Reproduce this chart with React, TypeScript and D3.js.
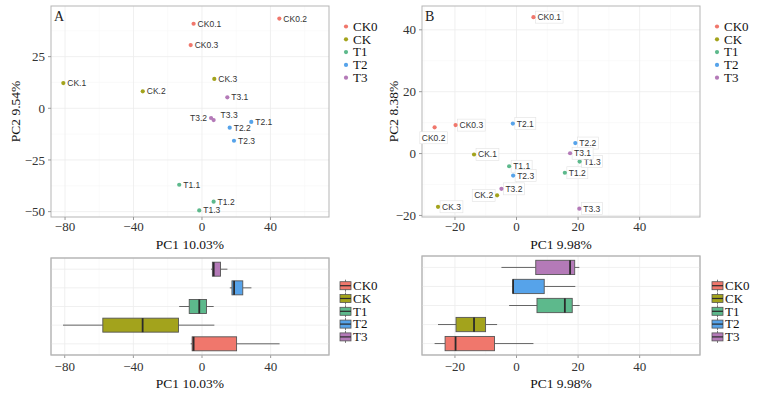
import React from 'react';
import * as d3 from 'd3';

// groups and colours
const groups = ["CK0", "CK", "T1", "T2", "T3"];
const groupColors = ["#F0776C", "#A3A31C", "#5DB98C", "#56A3EA", "#B47AB8"];

// samples (3 replicates per group)
const samples = ["CK0.1", "CK0.2", "CK0.3", "CK.1", "CK.2", "CK.3", "T1.1", "T1.2", "T1.3", "T2.1", "T2.2", "T2.3", "T3.1", "T3.2", "T3.3"];
const sampleGroup = ["CK0", "CK0", "CK0", "CK", "CK", "CK", "T1", "T1", "T1", "T2", "T2", "T2", "T3", "T3", "T3"];

// panel A scores
const pc1A = [-4.9, 45.2, -6.6, -81, -34.6, 7.2, -13.3, 6.8, -1.6, 28.8, 16.2, 18.7, 14.8, 5.3, 6.8];
const pc2A = [40.9, 43.4, 30.6, 12.2, 8.2, 14.2, -37, -45.2, -49.4, -6.6, -9.4, -15.7, 5.3, -4.7, -5.7];
// panel B scores
const pc1B = [5.5, -26.6, -19.8, -13.8, -6.3, -25.5, -2.4, 15.7, 20.5, -1.2, 19.1, -1.1, 17.4, -4.9, 20.4];
const pc2B = [44.1, 8.5, 9.2, -0.3, -13.5, -17.2, -4.1, -6.2, -2.6, 9.7, 3.4, -7.1, 0.1, -11.4, -17.8];

// tick labels
const xTicksA = [-80, -40, 0, 40];
const yTicksA = [25, 0, -25, -50];
const xTicksB = [-20, 0, 20, 40];
const yTicksB = [40, 20, 0, -20];

// where ggrepel pushed a few labels
const placeA = { "T3.2": "left", "T3.3": "above" };
const placeB = { "CK0.2": "below", "CK.2": "left" };

const serif = "Liberation Serif, Times New Roman, Times, serif";
const sans = "Liberation Sans, Arial, sans-serif";
const labelSize = 8.5;

let ctx = null;
function textWidth(s, size) {
  if (!ctx) ctx = document.createElement("canvas").getContext("2d");
  ctx.font = `${size}px ${sans}`;
  return ctx.measureText(s).width;
}

function minorTicks(ticks, domain) {
  const step = Math.abs(ticks[1] - ticks[0]);
  const lo = Math.min(domain[0], domain[1]), hi = Math.max(domain[0], domain[1]);
  const out = [];
  for (let v = Math.min(...ticks) - step * 3 + step / 2; v < hi; v += step) {
    if (v > lo) out.push(v);
  }
  return out;
}

function colorOf(g) {
  return groupColors[groups.indexOf(g)];
}

function Frame({ x, y, xTicks, yTicks, xTickY, vGridOnly }) {
  const [l, r] = x.range();
  const [b, t] = y.range();
  const xMinor = minorTicks(xTicks, x.domain());
  return (
    <g>
      <rect x={l} y={t} width={r - l} height={b - t} fill="#fff" />
      {xMinor.map(v => <line key={"xm" + v} x1={x(v)} x2={x(v)} y1={t} y2={b} stroke="#f6f6f6" strokeWidth={0.6} />)}
      {!vGridOnly && minorTicks(yTicks, y.domain()).map(v => <line key={"ym" + v} x1={l} x2={r} y1={y(v)} y2={y(v)} stroke="#f6f6f6" strokeWidth={0.6} />)}
      {xTicks.map(v => <line key={"xg" + v} x1={x(v)} x2={x(v)} y1={t} y2={b} stroke="#ececec" strokeWidth={0.8} />)}
      {!vGridOnly && yTicks.map(v => <line key={"yg" + v} x1={l} x2={r} y1={y(v)} y2={y(v)} stroke="#ececec" strokeWidth={0.8} />)}
      <rect x={l} y={t} width={r - l} height={b - t} fill="none" stroke="#b5b5b5" strokeWidth={1} />
      {xTicks.map(v => (
        <g key={"xt" + v}>
          <line x1={x(v)} x2={x(v)} y1={b} y2={b + 3} stroke="#999" />
          <text x={x(v)} y={xTickY} textAnchor="middle" fontFamily={serif} fontSize={13} fill="#333">{d3.format("d")(v)}</text>
        </g>
      ))}
    </g>
  );
}

function Scatter({ left, right, top, bottom, xDomain, yDomain, xTicks, yTicks, pc1, pc2, tag, xTitle, yTitle, yTitleX, boxed, place, legendX }) {
  const x = d3.scaleLinear().domain(xDomain).range([left, right]);
  const y = d3.scaleLinear().domain(yDomain).range([bottom, top]);
  const fmt = d3.format("d");
  return (
    <g>
      <Frame x={x} y={y} xTicks={xTicks} yTicks={yTicks} xTickY={bottom + 14} />
      {yTicks.map(v => (
        <g key={"yt" + v}>
          <line x1={left - 3} x2={left} y1={y(v)} y2={y(v)} stroke="#999" />
          <text x={left - 6} y={y(v)} dy="0.35em" textAnchor="end" fontFamily={serif} fontSize={13} fill="#333">{fmt(v)}</text>
        </g>
      ))}
      <text x={left + 3} y={top + 15} fontFamily={serif} fontSize={14} fill="#222">{tag}</text>
      {samples.map((s, i) => {
        const px = x(pc1[i]), py = y(pc2[i]);
        const w = textWidth(s, labelSize);
        const p = place[s] || "right";
        let tx = px + 4, ty = py;
        if (p === "left") tx = px - 4 - w;
        if (p === "above") { tx = px + 7; ty = py - 5; }
        if (p === "below") { tx = px - w / 2 - 1; ty = py + 10.5; }
        return (
          <g key={s}>
            {boxed && <rect x={tx - 2} y={ty - 6} width={w + 4} height={12} fill="#fff" stroke="#e2e2e2" strokeWidth={0.6} />}
            <circle cx={px} cy={py} r={2.1} fill={colorOf(sampleGroup[i])} />
            <text x={tx} y={ty} dy="0.35em" fontFamily={sans} fontSize={labelSize} fill="#333">{s}</text>
          </g>
        );
      })}
      <text x={(left + right) / 2} y={bottom + 31.5} textAnchor="middle" fontFamily={serif} fontSize={13.5} fill="#111">{xTitle}</text>
      <text transform={`translate(${yTitleX},${(top + bottom) / 2}) rotate(-90)`} textAnchor="middle" dy="0.35em" fontFamily={serif} fontSize={13.5} fill="#111">{yTitle}</text>
      {groups.map((g, k) => (
        <g key={g} transform={`translate(${legendX},${26.5 + k * 12.8})`}>
          <circle cx={0} cy={0} r={2.1} fill={groupColors[k]} />
          <text x={7} y={0} dy="0.33em" fontFamily={serif} fontSize={13} fill="#111">{g}</text>
        </g>
      ))}
    </g>
  );
}

function BoxPlot({ left, right, top, bottom, xDomain, xTicks, pc1, xTitle, legendX }) {
  const x = d3.scaleLinear().domain(xDomain).range([left, right]);
  const y = d3.scalePoint().domain(groups).range([bottom, top]).padding(0.6);
  const bh = y.step() * 0.75;
  const stats = groups.map(g => {
    const v = pc1.filter((_, i) => sampleGroup[i] === g).sort(d3.ascending);
    const q1 = d3.quantile(v, 0.25), med = d3.quantile(v, 0.5), q3 = d3.quantile(v, 0.75);
    const iqr = q3 - q1;
    const lo = d3.min(v.filter(d => d >= q1 - 1.5 * iqr));
    const hi = d3.max(v.filter(d => d <= q3 + 1.5 * iqr));
    return { g, q1, med, q3, lo, hi };
  });
  return (
    <g>
      <Frame x={x} y={y} xTicks={xTicks} yTicks={[]} xTickY={bottom + 16} vGridOnly />
      {groups.map(g => <line key={"hg" + g} x1={left} x2={right} y1={y(g)} y2={y(g)} stroke="#ececec" strokeWidth={0.8} />)}
      <rect x={left} y={top} width={right - left} height={bottom - top} fill="none" stroke="#b5b5b5" strokeWidth={1} />
      {stats.map(s => {
        const cy = y(s.g);
        return (
          <g key={s.g}>
            <line x1={x(s.lo)} x2={x(s.q1)} y1={cy} y2={cy} stroke="#555" strokeWidth={0.9} />
            <line x1={x(s.q3)} x2={x(s.hi)} y1={cy} y2={cy} stroke="#555" strokeWidth={0.9} />
            <rect x={x(s.q1)} y={cy - bh / 2} width={x(s.q3) - x(s.q1)} height={bh} fill={colorOf(s.g)} stroke="#555" strokeWidth={0.9} />
            <line x1={x(s.med)} x2={x(s.med)} y1={cy - bh / 2} y2={cy + bh / 2} stroke="#2b2b2b" strokeWidth={1.8} />
          </g>
        );
      })}
      <text x={(left + right) / 2} y={bottom + 33} textAnchor="middle" fontFamily={serif} fontSize={13.5} fill="#111">{xTitle}</text>
      {groups.map((g, k) => (
        <g key={g} transform={`translate(${legendX},${285.7 + k * 12.8})`}>
          <line x1={5.5} x2={5.5} y1={-6} y2={6} stroke="#555" strokeWidth={0.8} />
          <rect x={0} y={-4} width={11} height={8} fill={groupColors[k]} stroke="#555" strokeWidth={0.8} />
          <line x1={0} x2={11} y1={0} y2={0} stroke="#2b2b2b" strokeWidth={1.2} />
          <text x={13} y={0} dy="0.33em" fontFamily={serif} fontSize={13} fill="#111">{g}</text>
        </g>
      ))}
    </g>
  );
}

export default function App() {
  return (
    <svg width={770} height={399} style={{ position: "absolute", left: 0, top: 0, display: "block", background: "#fff" }}>
      <Scatter left={51} right={329} top={6} bottom={217} xDomain={[-88.2, 74.2]} yDomain={[-52.6, 49.5]}
        xTicks={xTicksA} yTicks={yTicksA} pc1={pc1A} pc2={pc2A} tag="A" xTitle="PC1 10.03%" yTitle="PC2 9.54%"
        yTitleX={15} boxed={false} place={placeA} legendX={346} />
      <Scatter left={422} right={700} top={6} bottom={217} xDomain={[-30.7, 59.6]} yDomain={[-20.5, 47.7]}
        xTicks={xTicksB} yTicks={yTicksB} pc1={pc1B} pc2={pc2B} tag="B" xTitle="PC1 9.98%" yTitle="PC2 8.38%"
        yTitleX={393} boxed={true} place={placeB} legendX={717} />
      <BoxPlot left={51} right={329} top={258} bottom={355} xDomain={[-88, 74]} xTicks={xTicksA} pc1={pc1A}
        xTitle="PC1 10.03%" legendX={340} />
      <BoxPlot left={422} right={700} top={256} bottom={355} xDomain={[-30.7, 59.6]} xTicks={xTicksB} pc1={pc1B}
        xTitle="PC1 9.98%" legendX={712} />
    </svg>
  );
}
